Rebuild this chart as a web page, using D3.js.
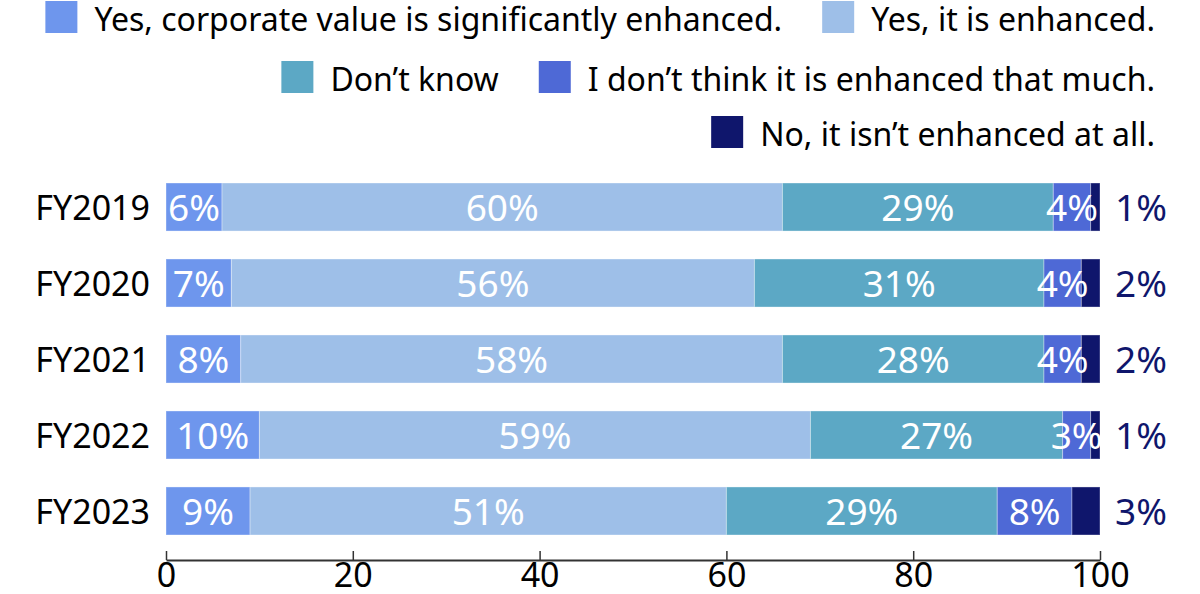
<!DOCTYPE html>
<html>
<head>
<meta charset="utf-8">
<script src="https://cdn.jsdelivr.net/npm/d3@7"></script>
<style>
  html, body { margin: 0; padding: 0; background: #fff; }
  svg { display: block; font-family: "Noto Sans", "Open Sans", sans-serif; }
</style>
</head>
<body>
<svg id="chart" width="1200" height="594"></svg>
<script>
// ---- data ----
const categories = ["FY2019", "FY2020", "FY2021", "FY2022", "FY2023"];
const seriesNames = [
  "Yes, corporate value is significantly enhanced.",
  "Yes, it is enhanced.",
  "Don\u2019t know",
  "I don\u2019t think it is enhanced that much.",
  "No, it isn\u2019t enhanced at all."
];
const sigEnhanced   = [6, 7, 8, 10, 9];
const enhanced      = [60, 56, 58, 59, 51];
const dontKnow      = [29, 31, 28, 27, 29];
const notThatMuch   = [4, 4, 4, 3, 8];
const notAtAll      = [1, 2, 2, 1, 3];
const xTicks = [0, 20, 40, 60, 80, 100];
const colors = ["#6e96ed", "#9ebfe8", "#5ca8c5", "#4e69d6", "#0f166c"];

const seriesValues = [sigEnhanced, enhanced, dontKnow, notThatMuch, notAtAll];

// ---- layout ----
const svg = d3.select("#chart");
const x = d3.scaleLinear().domain([0, 100]).range([166, 1100]);
const y = d3.scaleBand().domain(categories).range([183, 535]).paddingInner(0.368).paddingOuter(0);

const rows = categories.map((c, i) => {
  const r = { cat: c };
  seriesNames.forEach((s, k) => r["s" + k] = seriesValues[k][i]);
  return r;
});
const keys = seriesNames.map((s, k) => "s" + k);
const stacked = d3.stack().keys(keys)(rows);

// bars
const layers = svg.append("g").selectAll("g").data(stacked).join("g")
  .attr("fill", (d, k) => colors[k]);
layers.selectAll("rect").data(d => d).join("rect")
  .attr("x", d => x(d[0]))
  .attr("y", d => y(d.data.cat))
  .attr("width", d => x(d[1]) - x(d[0]))
  .attr("height", y.bandwidth())
  .attr("stroke", "#ffffff").attr("stroke-opacity", 0.35).attr("stroke-width", 1);

// value labels
stacked.forEach((layer, k) => {
  const last = k === stacked.length - 1;
  svg.append("g").selectAll("text").data(layer).join("text")
    .attr("x", d => last ? x(100) + 15 : (x(d[0]) + x(d[1])) / 2)
    .attr("y", d => y(d.data.cat) + y.bandwidth() / 2 + 14)
    .attr("text-anchor", last ? "start" : "middle")
    .attr("fill", last ? colors[4] : "#ffffff")
    .attr("font-size", 37)
    .text(d => (d[1] - d[0]) + "%");
});

// category labels
svg.append("g").selectAll("text").data(categories).join("text")
  .attr("x", 150)
  .attr("y", d => y(d) + y.bandwidth() / 2 + 13)
  .attr("text-anchor", "end")
  .attr("fill", "#000")
  .attr("font-size", 34)
  .text(d => d);

// x axis
const axis = svg.append("g").attr("transform", "translate(0,560)")
  .call(d3.axisBottom(x).tickValues(xTicks).tickSize(-9).tickSizeOuter(0).tickPadding(3).tickFormat(d3.format("d")));
axis.select(".domain").attr("stroke", "#333").attr("stroke-width", 2);
axis.selectAll(".tick line").attr("stroke", "#333").attr("stroke-width", 1.5);
axis.selectAll(".tick text").attr("fill", "#000").attr("font-size", 34).attr("font-family", "\"Noto Sans\", sans-serif");

// legend
const legendRows = [[0, 1], [2, 3], [4]];
const rowCenters = [17, 77, 132];
const rightEdge = 1155, sw = 32, gapText = 17, gapItem = 40;
legendRows.forEach((items, r) => {
  const g = svg.append("g");
  const nodes = items.map(k => {
    const t = g.append("text").attr("font-size", 32).attr("fill", "#000")
      .attr("y", rowCenters[r] + 14).text(seriesNames[k]);
    return { k, t, w: t.node().getComputedTextLength() };
  });
  let total = nodes.reduce((a, n) => a + sw + gapText + n.w, 0) + gapItem * (nodes.length - 1);
  let cx = rightEdge - total;
  nodes.forEach(n => {
    g.append("rect").attr("x", cx).attr("y", rowCenters[r] - 16).attr("width", sw).attr("height", sw)
      .attr("fill", colors[n.k]);
    n.t.attr("x", cx + sw + gapText);
    cx += sw + gapText + n.w + gapItem;
  });
});
</script>
</body>
</html>
